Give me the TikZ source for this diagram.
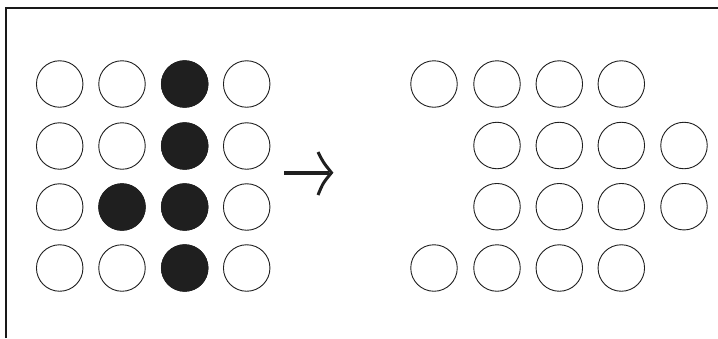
\documentclass[tikz,border=0pt]{standalone}
\begin{document}
\begin{tikzpicture}[x=1pt,y=-1pt,
  dot/.style={circle,draw=black!88,line width=0.9pt,minimum size=46.5pt,inner sep=0pt,fill=white},
  dotfull/.style={dot,fill=black!88,draw=black!88},
  frame/.style={line width=1.3pt,black!90},
  arrowline/.style={line width=3.6pt,black!88},
  arrowhead/.style={line width=3pt,black!88,line cap=butt}]
\useasboundingbox (0,0) rectangle (718,338);
% frame
\coordinate (tl) at (6,8);
\coordinate (tr) at (718,8);
\coordinate (bl) at (6,338);
\draw[frame] (bl) -- (tl) -- (tr);
% left grid
\foreach \r/\y in {1/84,2/146,3/207,4/268}{
  \foreach \c/\x in {1/59.7,2/122,3/184.7,4/246.7}{
    \node[dot] (L\r\c) at (\x,\y) {};
  }
}
\foreach \n/\x/\y in {13/184.7/84, 23/184.7/146, 32/122/207, 33/184.7/207, 43/184.7/268}{
  \node[dotfull] (F\n) at (\x,\y) {};
}
% arrow
\coordinate (as) at (284,172.7);
\coordinate (ae) at (329,172.7);
\coordinate (at1) at (318,152);
\coordinate (atip) at (331.5,172.7);
\coordinate (at2) at (318,195);
\draw[arrowline] (as) -- (ae);
\draw[arrowhead] (at1) .. controls (323,162) .. (atip) .. controls (323,183) .. (at2);
% right grid
\foreach \x [count=\i] in {434,497,559.3,621.3}{ \node[dot] (R1\i) at (\x,84) {}; }
\foreach \x [count=\i] in {497,559.3,621.3,684}{ \node[dot] (R2\i) at (\x,145.5) {}; }
\foreach \x [count=\i] in {497,559.3,621.3,684}{ \node[dot] (R3\i) at (\x,206.7) {}; }
\foreach \x [count=\i] in {434,497,559.3,621.3}{ \node[dot] (R4\i) at (\x,268) {}; }
\end{tikzpicture}
\end{document}
